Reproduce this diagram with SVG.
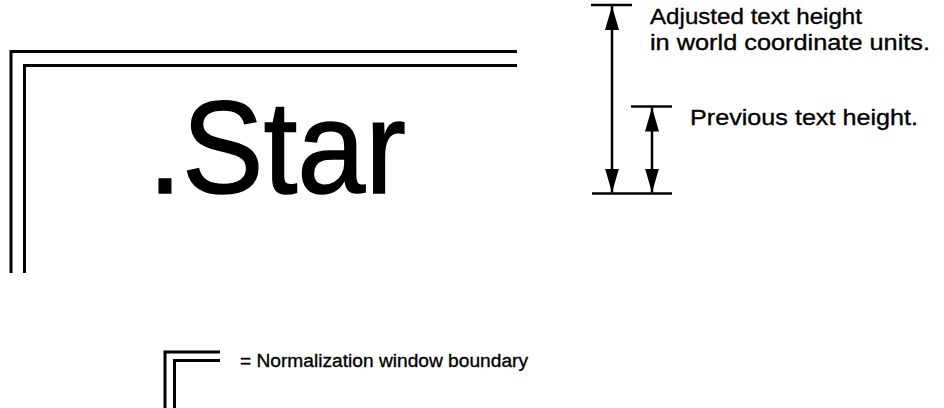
<svg xmlns="http://www.w3.org/2000/svg" width="944" height="408" viewBox="0 0 944 408">
  <style>
    .frame { fill: none; stroke: #000; stroke-width: 3; stroke-linecap: butt; stroke-linejoin: miter; }
    .legend { fill: none; stroke: #000; stroke-width: 3; stroke-linejoin: miter; }
    .dim { fill: none; stroke: #000; stroke-width: 2.5; }
    .bar { stroke: #000; stroke-width: 2.5; }
    .lbl { font-family: "Liberation Sans", Arial, Helvetica, sans-serif; fill: #000; }
    .small { stroke: #000; stroke-width: 0.35; }
    .big { stroke: #000; stroke-width: 1.5; }
  </style>
  <defs>
    <marker id="head" viewBox="0 0 24 14" refX="24" refY="7" markerWidth="24" markerHeight="14" markerUnits="userSpaceOnUse" orient="auto-start-reverse">
      <path d="M0,0 L24,7 L0,14 Z" fill="#000"/>
    </marker>
  </defs>
  <rect width="944" height="408" fill="#fff"/>

  <!-- normalization window boundary: doubled corner -->
  <g id="window-boundary">
    <path class="frame" d="M11,273 V51.5 H517"/>
    <path class="frame" d="M24.5,273 V65.5 H517"/>
  </g>

  <!-- sample string -->
  <g id="star-text">
    <text class="lbl big" x="148" y="193" font-size="132" textLength="258" lengthAdjust="spacingAndGlyphs">.Star</text>
  </g>

  <!-- height dimension marks -->
  <g id="connectors">
    <line class="bar" x1="591" y1="5" x2="632" y2="5"/>
    <line class="bar" x1="631" y1="106.5" x2="672" y2="106.5"/>
    <line class="bar" x1="592" y1="193.5" x2="672" y2="193.5"/>
    <line class="dim" x1="612" y1="6" x2="612" y2="192.5" marker-start="url(#head)" marker-end="url(#head)"/>
    <line class="dim" x1="652" y1="107.5" x2="652" y2="192.5" marker-start="url(#head)" marker-end="url(#head)"/>
  </g>

  <g id="adjusted-label">
    <text class="lbl small" x="650" y="24" font-size="22" textLength="212" lengthAdjust="spacingAndGlyphs">Adjusted text height</text>
    <text class="lbl small" x="650" y="50" font-size="22" textLength="280" lengthAdjust="spacingAndGlyphs">in world coordinate units.</text>
  </g>

  <g id="previous-label">
    <text class="lbl small" x="690" y="125" font-size="22" textLength="228" lengthAdjust="spacingAndGlyphs">Previous text height.</text>
  </g>

  <!-- key -->
  <g id="legend">
    <path class="legend" d="M165,408 V352 H220"/>
    <path class="legend" d="M174.5,408 V360.5 H220"/>
    <text class="lbl small" x="240" y="367" font-size="18.5" textLength="288" lengthAdjust="spacingAndGlyphs">= Normalization window boundary</text>
  </g>
</svg>
